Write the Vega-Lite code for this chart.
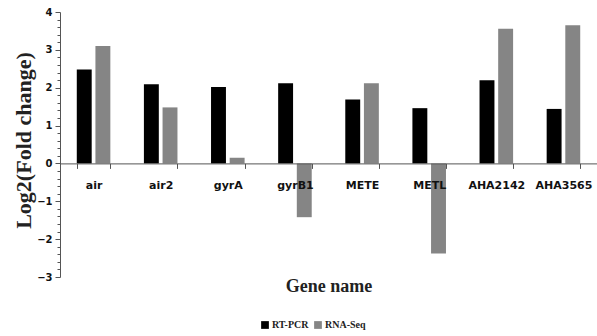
{
  "$schema": "https://vega.github.io/schema/vega-lite/v6.json",
  "width": 537,
  "height": 265,
  "autosize": {"type": "none"},
  "padding": {"left": 60, "top": 12, "right": 0, "bottom": 59},
  "background": "white",
  "data": {
    "values": [
      {"gene": "air", "series": "RT-PCR", "value": 2.48},
      {"gene": "air", "series": "RNA-Seq", "value": 3.1},
      {"gene": "air2", "series": "RT-PCR", "value": 2.09},
      {"gene": "air2", "series": "RNA-Seq", "value": 1.48},
      {"gene": "gyrA", "series": "RT-PCR", "value": 2.02},
      {"gene": "gyrA", "series": "RNA-Seq", "value": 0.15},
      {"gene": "gyrB1", "series": "RT-PCR", "value": 2.12},
      {"gene": "gyrB1", "series": "RNA-Seq", "value": -1.42},
      {"gene": "METE", "series": "RT-PCR", "value": 1.69},
      {"gene": "METE", "series": "RNA-Seq", "value": 2.12},
      {"gene": "METL", "series": "RT-PCR", "value": 1.46},
      {"gene": "METL", "series": "RNA-Seq", "value": -2.38},
      {"gene": "AHA2142", "series": "RT-PCR", "value": 2.2},
      {"gene": "AHA2142", "series": "RNA-Seq", "value": 3.56},
      {"gene": "AHA3565", "series": "RT-PCR", "value": 1.44},
      {"gene": "AHA3565", "series": "RNA-Seq", "value": 3.65}
    ]
  },
  "mark": {"type": "bar"},
  "encoding": {
    "x": {
      "field": "gene",
      "type": "nominal",
      "sort": null,
      "scale": {"paddingInner": 0.5, "paddingOuter": 0.25},
      "axis": {
        "zindex": 1,
        "title": "Gene name",
        "titleFont": "Liberation Serif",
        "titleFontSize": 18,
        "titleFontWeight": "bold",
        "titleColor": "#222",
        "titlePadding": 87,
        "labelAngle": 0,
        "labelFont": "DejaVu Sans",
        "labelFontSize": 11,
        "labelFontWeight": "bold",
        "labelColor": "#111",
        "labelPadding": 11,
        "tickBand": "extent",
        "tickSize": 5,
        "tickColor": "#555",
        "domainColor": "#555",
        "offset": -113.6,
        "grid": false
      }
    },
    "xOffset": {
      "field": "series",
      "type": "nominal",
      "sort": ["RT-PCR", "RNA-Seq"],
      "scale": {"paddingInner": 0.2}
    },
    "y": {
      "field": "value",
      "type": "quantitative",
      "scale": {"domain": [-3, 4], "nice": false},
      "axis": {
        "title": "Log2(Fold change)",
        "titleFont": "Liberation Serif",
        "titleFontSize": 22,
        "titleFontWeight": "bold",
        "titleColor": "#222",
        "titleAngle": -90,
        "titleX": -37,
        "titleY": 128,
        "titleAlign": "center",
        "titleBaseline": "middle",
        "values": [-3, -2.8, -2.6, -2.4, -2.2, -2, -1.8, -1.6, -1.4, -1.2, -1, -0.8, -0.6, -0.4, -0.2, 0, 0.2, 0.4, 0.6, 0.8, 1, 1.2, 1.4, 1.6, 1.8, 2, 2.2, 2.4, 2.6, 2.8, 3, 3.2, 3.4, 3.6, 3.8, 4],
        "labelExpr": "abs(datum.value - round(datum.value)) < 0.01 ? format(datum.value, 'd') : ''",
        "labelFont": "DejaVu Sans",
        "labelFontSize": 10,
        "labelFontWeight": "bold",
        "labelColor": "#111",
        "labelPadding": 3,
        "tickSize": {"condition": {"test": "abs(datum.value - round(datum.value)) < 0.01", "value": 5}, "value": 3},
        "tickColor": "#555",
        "domainColor": "#555",
        "grid": false
      }
    },
    "color": {
      "field": "series",
      "type": "nominal",
      "sort": ["RT-PCR", "RNA-Seq"],
      "scale": {"domain": ["RT-PCR", "RNA-Seq"], "range": ["#000000", "#858585"]},
      "legend": {
        "title": null,
        "orient": "none",
        "direction": "horizontal",
        "legendX": 200,
        "legendY": 308,
        "symbolType": "square",
        "symbolSize": 60,
        "symbolStrokeWidth": 0,
        "symbolOpacity": 1,
        "labelFont": "Liberation Serif",
        "labelFontSize": 10,
        "labelFontWeight": "bold",
        "labelColor": "#222",
        "labelOffset": 2,
        "columnPadding": 4
      }
    }
  },
  "config": {
    "view": {"stroke": null},
    "axis": {"labelOverlap": false}
  }
}
